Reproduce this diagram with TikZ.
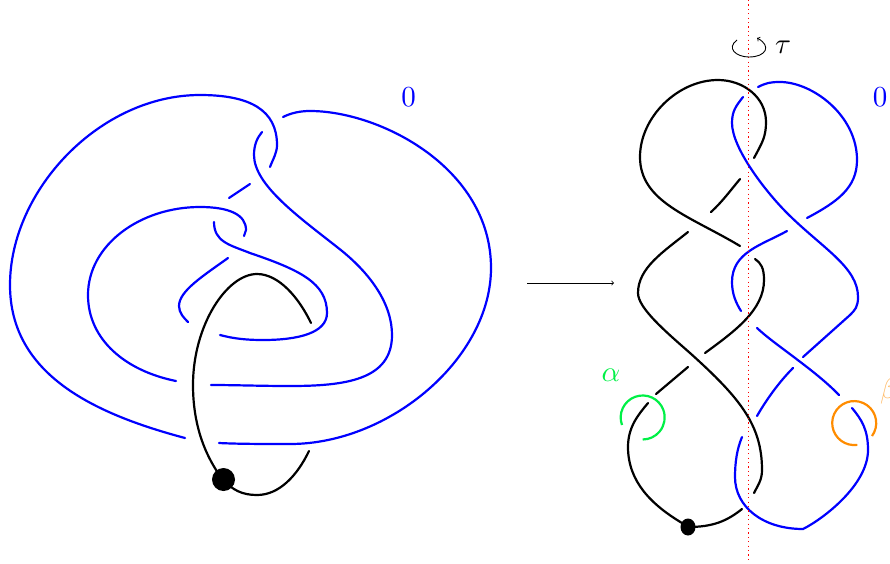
\documentclass[tikz,border=0pt]{standalone}
\usepackage{amsmath,amssymb}
\usepackage{xcolor}
\definecolor{knotblue}{RGB}{0, 0, 255}
\definecolor{knotgreen}{RGB}{0, 240, 70}
\definecolor{knotorange}{RGB}{255, 140, 0}
\usetikzlibrary{arrows.meta,shapes.geometric}
\tikzset{
    bluearc/.style={draw=knotblue, line width=2.2pt, line cap=round},
    blackarc/.style={draw=black, line width=2.2pt, line cap=round},
    bigtext/.style={scale=2.9},
}

\begin{document}
\begin{tikzpicture}[x=1pt, y=-1pt]
    \useasboundingbox (0, 0) rectangle (890, 563);

    % Left knot, blue strands
    \draw[bluearc] (185,438) .. controls +(-90,-24) and +(0,90) .. (10,285) .. controls +(0,-95) and +(-100,0) .. (200,95) .. controls +(50,0) and +(0,-35) .. (277,145) .. controls +(0,8) and +(3,-8) .. (270,167);
    \draw[bluearc] (283,117) .. controls +(8,-4) and +(-10,0) .. (310,111) .. controls +(70,0) and +(0,-100) .. (491,268) .. controls +(0,90) and +(100,0) .. (290,444) .. controls +(-25,0) and +(20,1) .. (219,443);
    \draw[bluearc] (262,132) .. controls +(-5,6) and +(0,-10) .. (254,155) .. controls +(0,30) and +(-38,-30) .. (337,247) .. controls +(35,27) and +(0,-30) .. (392,335) .. controls +(0,45) and +(55,0) .. (290,386) .. controls +(-30,0) and +(25,0) .. (211,385);
    \draw[bluearc] (229,198) -- (250,184);
    \draw[bluearc] (176,381) .. controls +(-50,-10) and +(0,45) .. (88,295) .. controls +(0,-50) and +(-60,0) .. (200,207) .. controls +(30,0) and +(0,-15) .. (246,230) -- (244,236);
    \draw[bluearc] (214,222) .. controls +(0,20) and +(-20,-8) .. (250,253) .. controls +(50,17) and +(0,-30) .. (327,313) .. controls +(0,20) and +(35,0) .. (263,340) .. controls +(-15,0) and +(15,4) .. (220,335);
    \draw[bluearc] (228,258) .. controls +(-25,18) and +(0,-15) .. (179,306) .. controls +(0,7) and +(-4,-4) .. (188,322);

    % Left knot, black strand
    \draw[blackarc] (311,323) .. controls +(-12,-25) and +(22,0) .. (257,274) .. controls +(-30,0) and +(0,-60) .. (193,385) .. controls +(0,45) and +(-15,-20) .. (223,480);
    \draw[blackarc] (223,480) .. controls +(10,10) and +(-15,0) .. (257,495) .. controls +(22,0) and +(-12,25) .. (309,451);
    \node[circle, fill=black, inner sep=0pt, minimum size=23pt] (leftdot) at (223.5, 479.5) {};
    \node[bigtext, text=knotblue] (leftframing) at (408.5, 97) {$0$};

    % Arrow between the two pictures
    \coordinate (arrowstart) at (527, 283);
    \coordinate (arrowend) at (614, 283);
    \draw[-to, line width=0.8pt] (arrowstart) -- (arrowend);

    % Right knot, black strands
    \draw[blackarc] (754,158) .. controls +(8,-15) and +(0,15) .. (766,122) .. controls +(0,-25) and +(25,0) .. (718,80) .. controls +(-40,0) and +(0,-40) .. (640,157) .. controls +(0,45) and +(-50,-30) .. (740,246);
    \draw[blackarc] (740,179) .. controls (730,191) and (722,202) .. (711,212);
    \draw[blackarc] (688,232) .. controls +(-25,20) and +(0,-25) .. (638,293) .. controls +(0,15) and +(-25,-22) .. (690,353) .. controls +(50,45) and +(0,-45) .. (762,470) .. controls +(0,10) and +(4,-8) .. (754,493);
    \draw[blackarc] (755,259) .. controls +(6,4) and +(0,-12) .. (764,280) .. controls +(0,30) and +(30,-22) .. (705,353);
    \draw[blackarc] (688,367) -- (656,394);
    \draw[blackarc] (648,403) .. controls +(-10,12) and +(0,-20) .. (628,447) .. controls +(0,35) and +(-30,-18) .. (682,523);
    \draw[blackarc] (688,527) .. controls +(25,0) and +(-15,12) .. (742,509);
    \node[ellipse, fill=black, inner sep=0pt, minimum width=15pt, minimum height=17pt] (rightdot) at (688, 527) {};

    % Right knot, blue strands
    \draw[bluearc] (758,87) .. controls +(8,-4) and +(-10,0) .. (780,82) .. controls +(32,0) and +(0,-45) .. (857,160) .. controls +(0,28) and +(30,-16) .. (807,218);
    \draw[bluearc] (743,97) .. controls +(-7,9) and +(0,-12) .. (732,123) .. controls +(0,25) and +(-22,-22) .. (787,213) .. controls +(35,35) and +(0,-30) .. (858,297) .. controls +(0,10) and +(5,-5) .. (850,315) -- (803,357);
    \draw[bluearc] (787,231) .. controls +(-25,14) and +(0,-30) .. (732,282) .. controls +(0,12) and +(-5,-8) .. (741,311);
    \draw[bluearc] (757,328) .. controls (775,345) and (815,370) .. (839,395);
    \draw[bluearc] (793,368) .. controls +(-15,15) and +(8,-14) .. (757,416);
    \draw[bluearc] (852,408) .. controls +(10,12) and +(0,-20) .. (868,450) .. controls +(0,35) and +(20,-10) .. (803,529) .. controls +(-40,0) and +(0,30) .. (735,477) .. controls +(0,-15) and +(-5,12) .. (742,437);

    % Meridians
    \draw[draw=knotgreen, line width=2.2pt] (622,425) arc[start angle=200, end angle=-90, radius=22pt];
    \draw[draw=knotorange, line width=2.2pt] (872,436) arc[start angle=-36, end angle=278, radius=22pt];
    \node[bigtext, text=knotgreen] (alphalabel) at (611, 375) {$\alpha$};
    \node[bigtext, text=knotorange!60] (betalabel) at (889, 391) {$\beta$};

    % Symmetry axis and rotation
    \draw[red, dash pattern=on 1.2pt off 3.2pt, line width=0.9pt] (748.5, 0) -- (748.5, 561);
    \draw[-to, line width=0.9pt] (737,40) .. controls (726,48) and (736,57) .. (749,57) .. controls (766,57) and (772,46) .. (757,38);
    \node[bigtext] (taulabel) at (783, 47) {$\tau$};
    \node[bigtext, text=knotblue] (rightframing) at (880, 97) {$0$};
\end{tikzpicture}
\end{document}
